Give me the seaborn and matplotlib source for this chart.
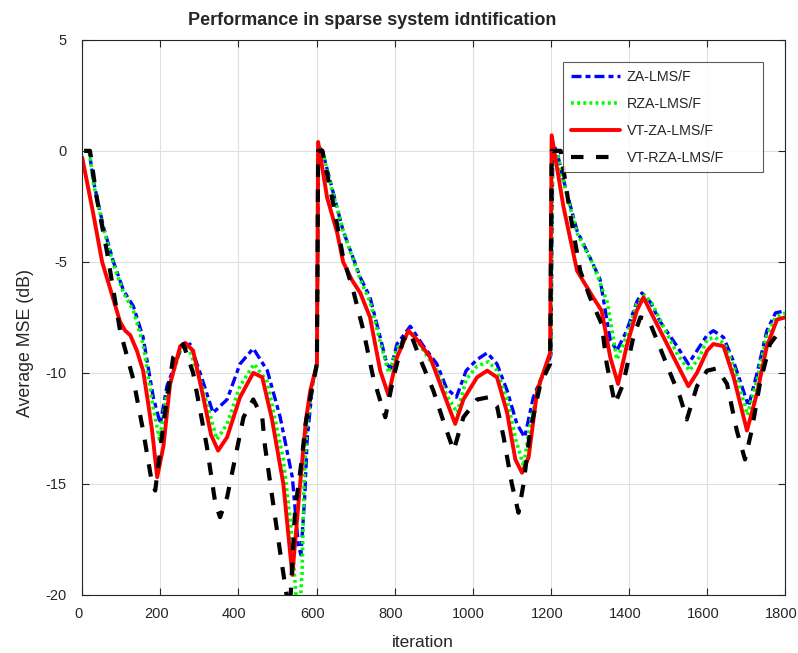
import matplotlib
matplotlib.use("Agg")
import matplotlib.pyplot as plt
import matplotlib.transforms as mtransforms
import seaborn as sns

# ZA-LMS/F (blue, dash-dot)
za_iter = [5, 18, 28, 54, 80, 106, 131, 156, 182, 200, 217, 251, 276, 302, 335, 371, 404, 438, 474, 507,
           538, 553, 560, 570, 576, 590, 601, 605, 615, 640, 668, 712, 737, 763, 780, 790, 806, 840, 874, 908,
           933, 958, 983, 1011, 1037, 1062, 1088, 1113, 1133, 1155, 1181, 1200, 1205, 1215, 1232, 1267, 1300,
           1326, 1352, 1369, 1394, 1420, 1433, 1454, 1480, 1523, 1552, 1574, 1600, 1616, 1642, 1668, 1706,
           1728, 1753, 1775, 1800]
za_mse = [0, 0, -1.3, -3.4, -5.0, -6.3, -7.0, -8.4, -11.1, -12.3, -10.6, -9.0, -8.7, -10.0, -11.8, -11.2, -9.6, -8.9, -9.9, -12.0,
          -14.7, -17.7, -18.2, -15.5, -13.0, -10.5, -9.6, 0.2, 0.0, -1.7, -3.6, -5.7, -6.6, -8.4, -9.6, -9.8, -8.7, -7.9, -8.8, -9.6,
          -10.7, -11.1, -9.9, -9.4, -9.1, -9.6, -10.8, -12.3, -12.9, -11.1, -10.0, -9.2, 0.3, 0.0, -1.3, -3.6, -4.8,
          -5.8, -8.5, -9.0, -8.1, -6.8, -6.4, -6.8, -7.7, -8.8, -9.6, -9.0, -8.3, -8.1, -8.4, -9.5, -11.5,
          -10.0, -8.1, -7.3, -7.2]

# RZA-LMS/F (green, dotted)
rza_iter = [5, 18, 28, 54, 80, 106, 131, 156, 182, 198, 217, 251, 270, 302, 345, 371, 404, 440, 474, 494,
            515, 535, 548, 556, 563, 568, 575, 590, 601, 605, 615, 640, 668, 712, 737, 763, 785, 806, 840, 874,
            908, 933, 960, 983, 1011, 1040, 1062, 1088, 1110, 1130, 1150, 1175, 1200, 1205, 1215, 1232, 1267,
            1308, 1344, 1369, 1395, 1420, 1440, 1460, 1490, 1525, 1555, 1580, 1600, 1620, 1645, 1670, 1703,
            1728, 1753, 1775, 1800]
rza_mse = [0, 0, -1.4, -3.5, -5.1, -6.4, -7.2, -8.7, -11.6, -13.0, -10.9, -9.0, -8.75, -10.3, -13.0, -12.3, -10.6, -9.6, -10.4, -12.1,
           -13.9, -17.0, -20.2, -21.0, -19.0, -15.0, -12.4, -10.5, -9.6, 0.2, 0.0, -1.8, -3.6, -5.8, -6.8, -8.6, -10.0, -8.9, -8.1, -9.0,
           -9.9, -11.0, -11.8, -10.3, -9.7, -9.5, -9.9, -11.2, -13.0, -14.2, -12.0, -10.3, -9.1, 0.2, 0.0, -1.4, -3.7,
           -5.1, -6.8, -9.4, -8.3, -6.9, -6.5, -6.9, -8.0, -9.2, -9.9, -9.3, -8.5, -8.4, -8.7, -9.8, -11.9,
           -10.3, -8.3, -7.5, -7.3]

# VT-ZA-LMS/F (red, solid)
vtza_iter = [0, 28, 51, 80, 97, 110, 123, 140, 156, 170, 179, 192, 208, 225, 251, 264, 284, 310, 330, 348,
             371, 404, 438, 461, 486, 515, 538, 558, 573, 584, 601, 604, 627, 653, 668, 690, 712, 737, 763, 784,
             806, 835, 857, 891, 925, 955, 976, 1011, 1037, 1062, 1088, 1109, 1126, 1143, 1165, 1198, 1202, 1232,
             1267, 1308, 1330, 1352, 1372, 1394, 1420, 1437, 1454, 1480, 1523, 1552, 1574, 1600, 1616, 1642,
             1668, 1702, 1728, 1753, 1779, 1800]
vtza_mse = [-0.3, -2.8, -5.0, -6.7, -7.7, -8.1, -8.3, -9.0, -9.9, -11.5, -12.6, -14.7, -13.3, -10.5, -8.8, -8.65, -9.0, -11.1, -12.8, -13.5,
            -12.9, -11.1, -10.0, -10.2, -12.1, -15.0, -19.1, -15.0, -12.1, -10.8, -9.6, 0.4, -2.1, -3.7, -5.0, -5.8, -6.4, -7.5, -9.9, -11.0,
            -9.3, -8.1, -8.5, -9.3, -10.9, -12.3, -11.2, -10.2, -9.9, -10.2, -11.8, -13.9, -14.5, -13.8, -10.8, -9.1, 0.7, -2.5,
            -5.4, -6.6, -7.2, -9.3, -10.5, -8.8, -7.2, -6.6, -7.2, -8.1, -9.6, -10.6, -10.0, -9.0, -8.7, -8.8,
            -10.2, -12.6, -10.9, -8.8, -7.6, -7.5]

# VT-RZA-LMS/F (black, dashed)
vtrza_iter = [5, 20, 37, 63, 97, 131, 156, 179, 187, 208, 233, 259, 284, 319, 341, 353, 371, 413, 438, 461,
              468, 489, 507, 525, 532, 545, 563, 571, 584, 601, 604, 615, 644, 668, 694, 720, 745, 776, 797, 822,
              840, 866, 899, 929, 951, 976, 1011, 1040, 1062, 1079, 1100, 1117, 1130, 1147, 1173, 1198, 1202, 1225,
              1249, 1275, 1300, 1330, 1343, 1364, 1385, 1411, 1429, 1450, 1471, 1505, 1531, 1548, 1574, 1600,
              1625, 1651, 1676, 1697, 1714, 1735, 1761, 1787, 1800]
vtrza_mse = [0, 0, -2.1, -4.5, -8.1, -10.3, -12.6, -15.0, -15.3, -12.3, -9.3, -8.7, -10.0, -13.3, -15.9, -16.5, -15.6, -12.0, -11.2, -12.0,
             -13.3, -15.9, -18.1, -20.2, -20.6, -16.2, -13.8, -12.4, -11.1, -9.6, 0.0, 0.0, -2.5, -4.8, -6.3, -8.1, -10.2, -12.0, -10.2, -8.5,
             -8.2, -9.4, -10.8, -12.4, -13.5, -12.0, -11.2, -11.1, -11.5, -12.9, -15.0, -16.3, -15.0, -12.6, -10.5, -9.6, 0.0, 0.0,
             -2.8, -5.4, -6.6, -7.8, -9.6, -11.4, -10.5, -8.4, -7.5, -7.6, -8.5, -10.0, -11.1, -12.1, -10.6, -9.9,
             -9.8, -10.5, -12.6, -13.9, -12.6, -10.5, -8.7, -8.1, -8.0]

sns.set_style("ticks")
plt.rcParams["font.family"] = ["Liberation Sans", "DejaVu Sans"]
plt.rcParams["axes.unicode_minus"] = False

fig = plt.figure(figsize=(7.98, 6.53), dpi=100)
ax = fig.add_axes([0.103, 0.089, 0.881, 0.850])

sns.lineplot(x=za_iter, y=za_mse, ax=ax, color="#0000ff", lw=2.4, estimator=None,
             linestyle=(0, (3, 1.2, 1.5, 1.2)), label="ZA-LMS/F")
sns.lineplot(x=rza_iter, y=rza_mse, ax=ax, color="#00ff00", lw=2.6, estimator=None,
             linestyle=(0, (0.8, 0.9)), label="RZA-LMS/F")
sns.lineplot(x=vtza_iter, y=vtza_mse, ax=ax, color="#ff0000", lw=2.8, estimator=None,
             linestyle="-", label="VT-ZA-LMS/F")
sns.lineplot(x=vtrza_iter, y=vtrza_mse, ax=ax, color="black", lw=3.0, estimator=None,
             linestyle=(0, (3, 3)), label="VT-RZA-LMS/F")

ax.set_xlim(0, 1800)
ax.set_ylim(-20, 5)
ax.set_xticks(range(0, 1801, 200))
ax.set_yticks(range(-20, 6, 5))
ax.grid(True, color="#e0e0e0", linewidth=0.8)
ax.tick_params(direction="in", top=True, right=True, labelsize=10.5, colors="#262626", length=5)
ax.tick_params(axis="x", pad=8.5)
ax.tick_params(axis="y", pad=11)
for s in ax.spines.values():
    s.set_color("#262626")
    s.set_linewidth(0.8)

# matlab-ish: x tick labels sit a few pixels left of the ticks
shift = mtransforms.ScaledTranslation(-4 / 100, 0, fig.dpi_scale_trans)
for lab in ax.get_xticklabels():
    lab.set_transform(lab.get_transform() + shift)

ax.set_xlabel("iteration", fontsize=12.5, color="#262626")
ax.xaxis.set_label_coords(0.484, -0.073)
ax.set_ylabel("Average MSE (dB)", fontsize=12.8, color="#262626")
ax.yaxis.set_label_coords(-0.068, 0.454)
ax.set_title("Performance in sparse system idntification", fontsize=13, fontweight="bold",
             x=0.4125, pad=11)

leg = ax.legend(loc="upper left", bbox_to_anchor=(0.684, 0.76, 0.285, 0.2), mode="expand",
                borderaxespad=0, fontsize=10.3, frameon=True, fancybox=False, edgecolor="#333333",
                handlelength=3.4, labelspacing=0.9, borderpad=0.55, handletextpad=0.5)
leg.get_frame().set_linewidth(0.8)

fig.savefig("out.png", dpi=100)
